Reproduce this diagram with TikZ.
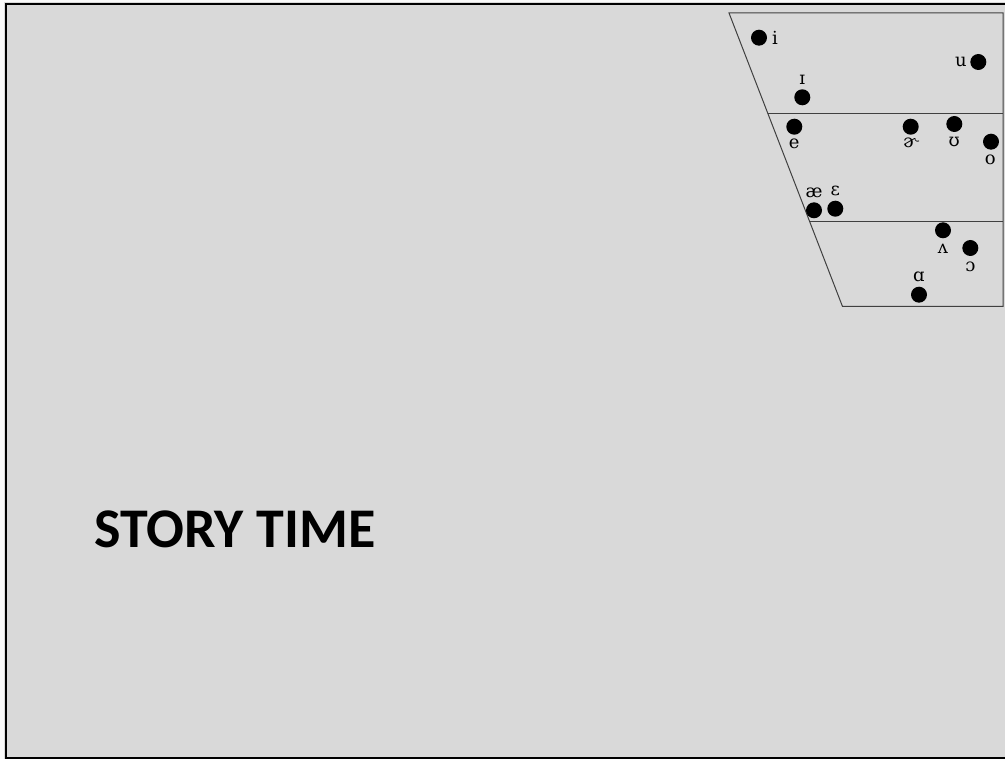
\documentclass[tikz,border=0pt]{standalone}
\usepackage{fontspec}
\setmainfont{DejaVu Serif}
\newfontfamily\titlefont{Carlito}
\definecolor{slidebg}{HTML}{D9D9D9}
\definecolor{chartline}{HTML}{404040}
\begin{document}
\begin{tikzpicture}[x=1pt,y=-1pt,
  dot/.style={circle,fill=black,inner sep=0pt,minimum size=16pt},
  lbl/.style={inner sep=0pt,font=\fontsize{18}{18}\selectfont},
  chart/.style={draw=chartline,line width=1pt}]
\useasboundingbox (0,0) rectangle (1005,759);
\fill[slidebg] (0,0) rectangle (1005,759);
\fill[white!85!slidebg] (0,0) rectangle (4,759);
\fill[white!85!slidebg] (0,0) rectangle (1005,2.5);
\draw[line width=2pt] (5.8,759) -- (5.8,4) -- (1005,4);
\draw[line width=2pt] (5.8,757.7) -- (1005,757.7);
% chart
\coordinate (tl) at (729,13);
\coordinate (tr) at (1003,13);
\coordinate (br) at (1003,306.5);
\coordinate (bl) at (842.5,306.5);
\coordinate (m1l) at (768,114);
\coordinate (m1r) at (1003,114);
\coordinate (m2l) at (810,222);
\coordinate (m2r) at (1003,222);
\draw[chart] (tl) -- (tr) -- (br) -- (bl) -- cycle;
\draw[chart] (m1l) -- (m1r);
\draw[chart] (m2l) -- (m2r);
% vowels
\node[dot] (i) at (759,37.7) {};
\node[lbl] (il) at (775,38) {i};
\node[dot] (u) at (978.3,62) {};
\node[lbl] (ul) at (961,62) {u};
\node[dot] (I) at (802.3,97.3) {};
\node[lbl] (Il) at (802.3,79.5) {ɪ};
\node[dot] (e) at (794.3,126.7) {};
\node[lbl] (el) at (794.3,144) {e};
\node[dot] (er) at (910.7,126.7) {};
\node[lbl] (erl) at (910.7,143) {ɚ};
\node[dot] (U) at (954.3,124) {};
\node[lbl] (Ul) at (954.3,142) {ʊ};
\node[dot] (o) at (991,141.7) {};
\node[lbl] (ol) at (990.3,160) {o};
\node[dot] (ae) at (814,210.3) {};
\node[lbl] (ael) at (814,193) {æ};
\node[dot] (E) at (835.3,208.7) {};
\node[lbl] (El) at (835.3,191) {ɛ};
\node[dot] (V) at (943,230.3) {};
\node[lbl] (Vl) at (943,249) {ʌ};
\node[dot] (O) at (970.3,248) {};
\node[lbl] (Ol) at (970.3,266.5) {ɔ};
\node[dot] (A) at (919,294.7) {};
\node[lbl] (Al) at (919,277) {ɑ};
% title
\node[anchor=base west,inner sep=0pt,font=\titlefont\bfseries\fontsize{56}{56}\selectfont] (title) at (94,547) {STORY TIME};
\end{tikzpicture}
\end{document}
